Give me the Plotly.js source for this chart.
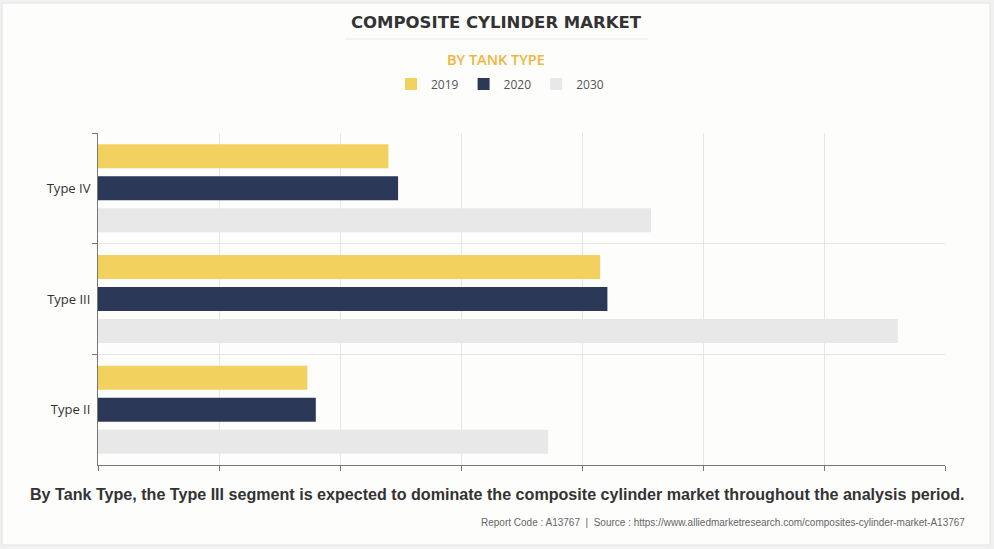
<!DOCTYPE html>
<html>
<head>
<meta charset="utf-8">
<script src="https://cdn.plot.ly/plotly-3.0.1.min.js"></script>
<style>
html,body{margin:0;padding:0;background:#f1f1f1;}
#chart{width:994px;height:549px;}
</style>
</head>
<body>
<div id="chart"></div>
<script>
const categories = ["Type IV", "Type III", "Type II"];
const years = ["2019", "2020", "2030"];
const values2019 = [2.40, 4.15, 1.73];
const values2020 = [2.48, 4.21, 1.80];
const values2030 = [4.57, 6.61, 3.72];
const colors = ["#F2D15E", "#2C3858", "#E8E8E8"];

const seriesValues = [values2019, values2020, values2030];
const traces = years.map((y, i) => ({
  type: "bar",
  orientation: "h",
  name: y,
  y: categories,
  x: seriesValues[i],
  marker: {color: colors[i], line: {width: 0}},
  hoverinfo: "x+name"
}));

const layout = {
  width: 994, height: 549,
  paper_bgcolor: "#f1f1f1",
  plot_bgcolor: "#fdfdfc",
  margin: {l: 98, r: 49, t: 133, b: 84},
  barmode: "group",
  bargap: 0.133,
  bargroupgap: 0.25,
  showlegend: true,
  legend: {
    orientation: "h", x: 500/994, xref: "container", xanchor: "center",
    y: 1 - 84/549, yref: "container", yanchor: "middle",
    font: {family: "Open Sans, Liberation Sans, sans-serif", size: 12, color: "#555"},
    itemclick: false, bgcolor: "rgba(0,0,0,0)"
  },
  title: {
    text: "<b>COMPOSITE CYLINDER MARKET</b>",
    x: 496/994, xanchor: "center", y: 1 - 22/549, yref: "container", yanchor: "middle",
    font: {family: "DejaVu Sans, sans-serif", size: 16.5, color: "#333"}
  },
  xaxis: {
    range: [0, 7], dtick: 1, tick0: 0,
    showticklabels: false, ticks: "outside", ticklen: 5, tickcolor: "#777",
    showline: true, linecolor: "#777", linewidth: 1,
    showgrid: true, gridcolor: "#e6e6e6", zeroline: false, fixedrange: true
  },
  yaxis: {
    type: "category", autorange: "reversed", tickson: "boundaries",
    ticks: "outside", ticklen: 5, tickcolor: "#777",
    showline: true, linecolor: "#777", linewidth: 1,
    showgrid: true, gridcolor: "#e6e6e6",
    ticklabelstandoff: 4,
    tickfont: {family: "Open Sans, Liberation Sans, sans-serif", size: 13, color: "#333"},
    fixedrange: true
  },
  shapes: [
    {type: "rect", xref: "paper", yref: "paper", layer: "below",
     x0: -96/847, x1: 1 + 45/847, y0: -80/332, y1: 1 + 130/332,
     fillcolor: "#fdfdfc", line: {color: "#e2e2e2", width: 1}},
    {type: "line", xref: "paper", yref: "paper",
     x0: (345-98)/847, x1: (648-98)/847, y0: (465-39)/332, y1: (465-39)/332,
     line: {color: "#e8e8e8", width: 1}}
  ],
  annotations: [
    {text: "BY TANK TYPE", xref: "paper", yref: "paper", x: (496-98)/847, y: (465-60)/332,
     xanchor: "center", yanchor: "middle", showarrow: false,
     font: {family: "Open Sans, sans-serif", size: 14.5, color: "#F0B43C", weight: 600}},
    {text: "<b>By Tank Type, the Type III segment is expected to dominate the composite cylinder market throughout the analysis period.</b>",
     xref: "paper", yref: "paper", x: (497-98)/847, y: (465-494)/332,
     xanchor: "center", yanchor: "middle", showarrow: false,
     font: {family: "Liberation Sans, Arial, sans-serif", size: 16.1, color: "#333"}},
    {text: "Report Code : A13767  |  Source : https://www.alliedmarketresearch.com/composites-cylinder-market-A13767",
     xref: "paper", yref: "paper", x: (967-98)/847, y: (465-522)/332,
     xanchor: "right", yanchor: "middle", showarrow: false,
     font: {family: "Liberation Sans, Arial, sans-serif", size: 10, color: "#666"}}
  ]
};

Plotly.newPlot("chart", traces, layout, {displayModeBar: false});
</script>
</body>
</html>
